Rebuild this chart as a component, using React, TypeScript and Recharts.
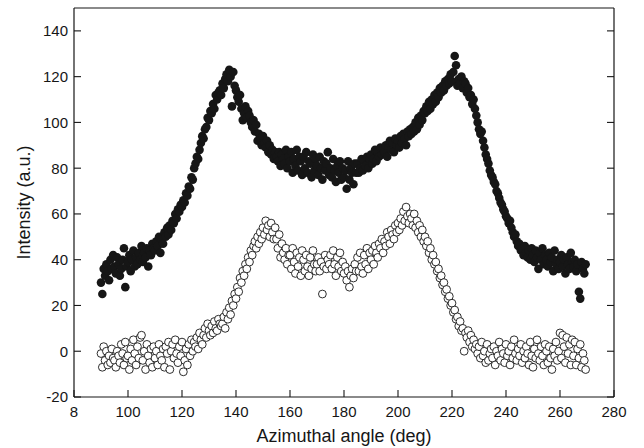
import React from 'react';
import { ScatterChart, Scatter, XAxis, YAxis } from 'recharts';

// Sampling grid of the azimuthal scan (deg)
const ANGLE_START = 90;
const ANGLE_STEP = 0.5;

// Filled circles: intensity (a.u.), one value per 0.5 deg from 90 to 269.5
const FILLED_INTENSITY = [
  30, 25, 36, 33, 38, 35, 31, 40, 36, 42,
  37, 34, 41, 38, 33, 36, 40, 45, 28, 37,
  39, 42, 35, 40, 44, 37, 41, 38, 43, 40,
  46, 39, 43, 41, 45, 37, 44, 42, 47, 45,
  44, 48, 46, 50, 43, 49, 47, 52, 50, 54,
  51, 55, 53, 57, 56, 60, 58, 62, 61, 64,
  63, 66, 65, 69, 68, 72, 71, 76, 75, 80,
  82, 85, 84, 88, 91, 94, 93, 97, 98, 102,
  101, 105, 104, 108, 106, 112, 110, 113, 114, 112,
  117, 115, 119, 121, 118, 123, 120, 107, 122, 116,
  114, 111, 109, 112, 106, 101, 104, 107, 102, 105,
  103, 100, 98, 101, 96, 99, 92, 95, 93, 90,
  94, 91, 89, 92, 87, 90, 86, 88, 84, 87,
  85, 83, 87, 81, 86, 84, 82, 88, 80, 85,
  83, 87, 78, 84, 81, 88, 79, 85, 83, 77,
  85, 80, 87, 78, 83, 82, 76, 86, 79, 84,
  81, 77, 85, 80, 75, 83, 79, 82, 87, 77,
  80, 76, 84, 79, 74, 81, 78, 83, 75, 80,
  76, 79, 71, 83, 75, 80, 78, 73, 82, 78,
  82, 78, 80, 84, 79, 83, 81, 85, 80, 84,
  86, 82, 84, 88, 83, 87, 85, 89, 86, 88,
  87, 90, 85, 89, 92, 88, 91, 87, 93, 90,
  92, 89, 94, 91, 95, 93, 90, 96, 94, 97,
  95, 98, 96, 100, 97, 102, 99, 103, 101, 105,
  104, 107, 105, 109, 106, 110, 108, 112, 109, 113,
  111, 115, 113, 116, 114, 118, 116, 119, 117, 121,
  118, 122, 129, 125, 116, 119, 117, 120, 115, 118,
  117, 113, 115, 111, 112, 108, 110, 106, 103, 100,
  97, 95, 96, 92, 89, 86, 84, 82, 79, 77,
  76, 74, 73, 70, 69, 67, 65, 64, 62, 61,
  59, 58, 56, 57, 54, 52, 50, 51, 48, 46,
  47, 44, 45, 42, 46, 43, 41, 44, 40, 45,
  42, 39, 44, 41, 36, 43, 40, 45, 38, 42,
  40, 37, 43, 39, 41, 35, 44, 38, 40, 36,
  39, 42, 37, 40, 34, 41, 38, 36, 43, 39,
  37, 40, 35, 38, 26, 23, 39, 36, 34, 38,
];

// Open circles: intensity (a.u.), one value per 0.5 deg from 90 to 269.5
const OPEN_INTENSITY = [
  -1, -7, 2, -4, 0, -6, -2, -5, 1, -3,
  -4, -7, 0, -2, -5, 3, -1, -6, 4, -3,
  -2, -8, 1, -4, 5, -1, -6, 2, -3, 6,
  7, -4, 0, -8, 3, -2, -5, 1, -7, 2,
  -3, 0, -6, 3, -2, -4, 1, -7, 2, -1,
  4, -8, 0, 3, -3, 5, -1, -5, 2, -2,
  4, -9, -4, 1, -6, 3, -2, 5, 0, 4,
  2, 6, 1, 8, 5, 3, 7, 10, 6, 12,
  9, 7, 11, 8, 13, 10, 9, 14, 12, 11,
  12, 15, 10, 17, 14, 19, 16, 22, 20, 25,
  23, 28, 26, 32, 30, 35, 33, 38, 36, 41,
  39, 44, 42, 46, 48, 45, 50, 47, 52, 49,
  54, 51, 57, 53, 55, 50, 56, 52, 49, 54,
  49, 45, 51, 41, 47, 43, 40, 45, 38, 42,
  42, 36, 45, 39, 34, 43, 37, 41, 33, 44,
  40, 35, 42, 37, 33, 41, 36, 44, 38, 35,
  38, 41, 35, 39, 25, 37, 42, 36, 40, 38,
  42, 36, 44, 38, 33, 41, 37, 43, 35, 39,
  34, 37, 31, 35, 28, 33, 36, 32, 38, 35,
  41, 35, 43, 37, 34, 42, 38, 45, 36, 43,
  40, 44, 38, 46, 43, 41, 47, 45, 49, 43,
  48, 46, 52, 50, 47, 53, 51, 49, 55, 52,
  56, 53, 58, 55, 61, 57, 63, 59, 56, 60,
  58, 55, 60, 54, 57, 52, 55, 50, 53, 48,
  50, 46, 48, 43, 45, 40, 42, 38, 39, 35,
  36, 32, 33, 29, 30, 26, 27, 23, 24, 20,
  21, 17, 18, 14, 15, 11, 13, 9, 10, 0,
  8, 6, 9, 4, 7, 2, 5, 1, 3, -1,
  2, -3, 4, -2, 0, -5, 3, -4, -1, 1,
  -3, 2, -6, 0, -2, 4, -4, 1, -1, -5,
  3, -2, 0, -6, 2, -3, 5, -1, -4, 1,
  -2, 3, -5, 0, -3, 2, -1, -6, 4, -2,
  -7, 1, -3, 5, -1, -4, 2, -2, -6, 3,
  0, -5, 2, -3, -8, 1, -2, 4, -4, 0,
  8, -3, 7, 2, -5, 6, -1, 3, -6, 5,
  -2, 4, -6, 1, -3, 3, -7, -1, -4, -8,
];

const X_TICKS = [80, 100, 120, 140, 160, 180, 200, 220, 240, 260, 280];
const X_TICK_LABELS = ['8', '100', '120', '140', '160', '180', '200', '220', '240', '260', '280'];
const Y_TICKS = [-20, 0, 20, 40, 60, 80, 100, 120, 140];
const Y_TICK_LABELS = ['-20', '0', '20', '40', '60', '80', '100', '120', '140'];
const X_DOMAIN: [number, number] = [80, 280];
const Y_DOMAIN: [number, number] = [-20, 150];

const X_TITLE = 'Azimuthal angle (deg)';
const Y_TITLE = 'Intensity (a.u.)';

const toPoints = (values: number[]) =>
  values.map((v, i) => ({ angle: ANGLE_START + i * ANGLE_STEP, intensity: v }));

const filledData = toPoints(FILLED_INTENSITY);
const openData = toPoints(OPEN_INTENSITY);

const INK = '#161616';
const FONT = '"Liberation Sans", Arial, Helvetica, sans-serif';
const axisLine = { stroke: INK, strokeWidth: 1.2 };
const tickLine = { stroke: INK, strokeWidth: 1.1 };
const tickStyle = { fill: INK, fontSize: 15, fontFamily: FONT };

const FilledDot = (props: any) => (
  <circle cx={props.cx} cy={props.cy} r={4.3} fill={INK} />
);
const OpenDot = (props: any) => (
  <circle cx={props.cx} cy={props.cy} r={3.9} fill="#ffffff" stroke={INK} strokeWidth={0.9} />
);

const xLabel = (v: number) => {
  const i = X_TICKS.indexOf(v);
  return i >= 0 ? X_TICK_LABELS[i] : '';
};
const yLabel = (v: number) => {
  const i = Y_TICKS.indexOf(v);
  return i >= 0 ? Y_TICK_LABELS[i] : '';
};
const blank = () => '';

export default function App() {
  return (
    <div style={{ position: 'absolute', left: 0, top: 0, width: 644, height: 448, background: '#fff' }}>
      <ScatterChart width={644} height={448} margin={{ top: 0, right: 0, bottom: 4, left: 14 }}>
        <XAxis
          xAxisId="bottom"
          type="number"
          dataKey="angle"
          domain={X_DOMAIN}
          ticks={X_TICKS}
          interval={0}
          allowDataOverflow
          tickFormatter={xLabel}
          tickSize={-7}
          tickMargin={16}
          height={47}
          axisLine={axisLine}
          tickLine={tickLine}
          tick={tickStyle}
          label={{ value: X_TITLE, position: 'insideBottom', offset: 2, fill: INK, fontSize: 18, fontFamily: FONT }}
        />
        <XAxis
          xAxisId="top"
          orientation="top"
          type="number"
          domain={X_DOMAIN}
          ticks={X_TICKS}
          interval={0}
          allowDataOverflow
          tickFormatter={blank}
          tickSize={-7}
          height={8}
          axisLine={axisLine}
          tickLine={tickLine}
          tick={tickStyle}
        />
        <YAxis
          yAxisId="left"
          type="number"
          dataKey="intensity"
          domain={Y_DOMAIN}
          ticks={Y_TICKS}
          interval={0}
          allowDataOverflow
          tickFormatter={yLabel}
          tickSize={-7}
          tickMargin={13}
          width={60}
          axisLine={axisLine}
          tickLine={tickLine}
          tick={tickStyle}
          label={{
            value: Y_TITLE,
            angle: -90,
            position: 'insideLeft',
            offset: 10,
            fill: INK,
            fontSize: 18,
            fontFamily: FONT,
            style: { textAnchor: 'middle' },
          }}
        />
        <YAxis
          yAxisId="right"
          orientation="right"
          type="number"
          domain={Y_DOMAIN}
          ticks={Y_TICKS}
          interval={0}
          allowDataOverflow
          tickFormatter={blank}
          tickSize={-7}
          width={30}
          axisLine={axisLine}
          tickLine={tickLine}
          tick={tickStyle}
        />
        <Scatter
          name="filled"
          data={filledData}
          xAxisId="bottom"
          yAxisId="left"
          shape={FilledDot}
          isAnimationActive={false}
        />
        <Scatter
          name="open"
          data={openData}
          xAxisId="bottom"
          yAxisId="left"
          shape={OpenDot}
          isAnimationActive={false}
        />
      </ScatterChart>
    </div>
  );
}
